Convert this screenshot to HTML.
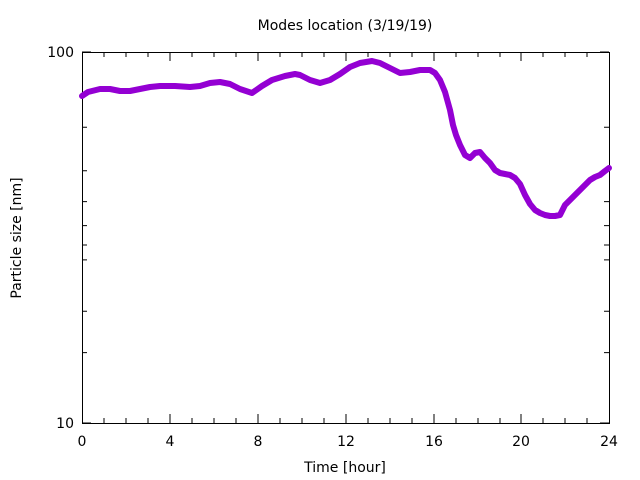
<!DOCTYPE html>
<html><head><meta charset="utf-8"><style>body{margin:0;background:#fff}svg{display:block}</style></head><body>
<svg width="640" height="480" xmlns="http://www.w3.org/2000/svg" font-family="DejaVu Sans, Liberation Sans, sans-serif" font-size="14">
<rect width="640" height="480" fill="#fff"/>
<g stroke="#000" stroke-width="1" fill="none">
<rect x="82.5" y="52.5" width="527" height="371"/>
<path d="
M82,127.3h5M609,127.3h-5
M82,170.8h5M609,170.8h-5
M82,201.6h5M609,201.6h-5
M82,225.6h5M609,225.6h-5
M82,245.0h5M609,245.0h-5
M82,259.9h5M609,259.9h-5
M82,311.3h5M609,311.3h-5
M82,352.6h5M609,352.6h-5
M82,52h9M609,52h-9M82,423h9M609,423h-9"/>
<path d="M104,423v-5M104,52v5M126,423v-5M126,52v5M148,423v-5M148,52v5M170,423v-9M170,52v9M192,423v-5M192,52v5M214,423v-5M214,52v5M236,423v-5M236,52v5M258,423v-9M258,52v9M280,423v-5M280,52v5M302,423v-5M302,52v5M324,423v-5M324,52v5M346,423v-9M346,52v9M368,423v-5M368,52v5M390,423v-5M390,52v5M412,423v-5M412,52v5M434,423v-9M434,52v9M456,423v-5M456,52v5M478,423v-5M478,52v5M500,423v-5M500,52v5M521,423v-9M521,52v9M543,423v-5M543,52v5M565,423v-5M565,52v5M587,423v-5M587,52v5"/>
</g>
<polyline fill="none" stroke="#9400d3" stroke-width="6" stroke-linejoin="round" stroke-linecap="round" points="82,96 88,92 100,89 110,89 120,91 130,91 140,89 150,87 160,86 175,86 190,87 200,86 210,83 220,82 230,84 240,89 252,93 262,86 272,80 285,76 295,74 300,75 310,80 320,83 330,80 340,74 350,67 360,63 372,61 380,63 390,68 400,73 410,72 420,70 430,70 435,73 440,80 445,92 450,110 453,125 456,135 460,145 465,155 470,158 475,153 480,152 485,158 490,163 495,170 500,173 505,174 510,175 515,178 520,184 525,195 530,204 535,210 540,213 545,215 550,216 555,216 560,215 565,205 570,200 575,195 580,190 585,185 590,180 595,177 600,175 605,171 609,168"/>
<g fill="#000" text-anchor="end">
<text x="74" y="57">100</text>
<text x="74" y="428">10</text>
</g>
<g fill="#000" text-anchor="middle">
<text x="82" y="446">0</text>
<text x="170" y="446">4</text>
<text x="258" y="446">8</text>
<text x="346" y="446">12</text>
<text x="434" y="446">16</text>
<text x="521" y="446">20</text>
<text x="609" y="446">24</text>
<text x="345" y="472">Time [hour]</text>
<text x="345" y="30">Modes location (3/19/19)</text>
<text transform="translate(21,238) rotate(-90)">Particle size [nm]</text>
</g>
</svg>
</body></html>
